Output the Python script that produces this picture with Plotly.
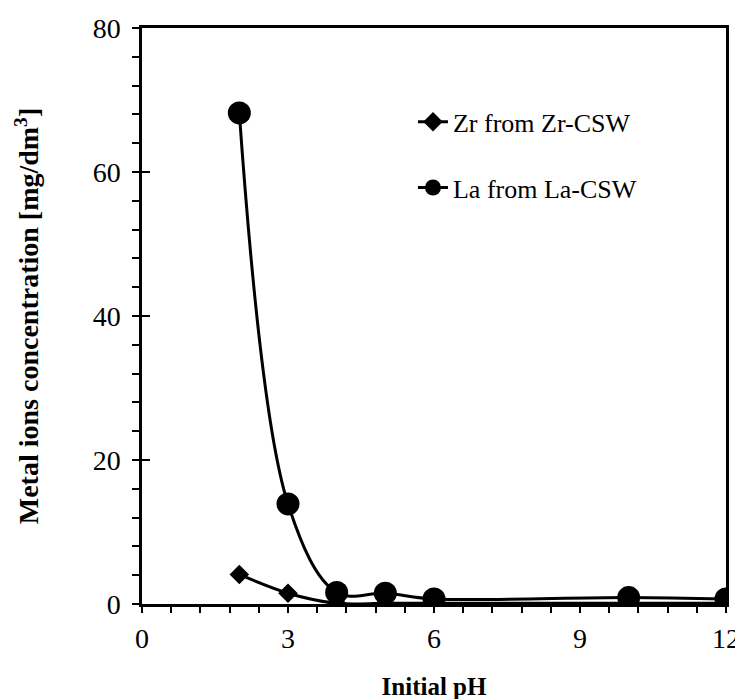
import plotly.graph_objects as go

ph = [2, 3, 4, 5, 6, 10, 12]
zr = [4.1, 1.5, 0.1, 0.1, 0.1, 0.1, 0.1]
la = [68.2, 13.9, 1.6, 1.5, 0.7, 0.9, 0.7]

FONT = "Liberation Serif"

fig = go.Figure()
fig.add_trace(go.Scatter(
    x=ph, y=zr, mode="lines+markers", name="Zr from Zr-CSW",
    line=dict(color="black", width=3, shape="spline", smoothing=1.0),
    marker=dict(symbol="diamond", size=15, color="black"),
    legendgroup="a",
))
fig.add_trace(go.Scatter(
    x=ph, y=la, mode="lines+markers", name="La from La-CSW",
    line=dict(color="black", width=3, shape="spline", smoothing=1.0),
    marker=dict(symbol="circle", size=23, color="black"),
    legendgroup="b",
))
# empty trace carrying the inward major ticks of the y axis
fig.add_trace(go.Scatter(x=[None], y=[None], yaxis="y2", showlegend=False))

fig.update_layout(
    width=743, height=699,
    margin=dict(l=134, r=25, t=20, b=103),
    paper_bgcolor="white", plot_bgcolor="white",
    font=dict(family=FONT, color="black", size=28),
    showlegend=True,
    legend=dict(
        x=0.464, y=0.878, xanchor="left", yanchor="top",
        font=dict(family=FONT, size=26, color="black"),
        bgcolor="rgba(0,0,0,0)", tracegroupgap=29,
    ),
    xaxis=dict(
        range=[0, 12], dtick=3, tick0=0, automargin=False,
        showline=True, linecolor="black", linewidth=2.5, mirror=True,
        ticks="outside", ticklen=6, tickwidth=1.5, tickcolor="black",
        minor=dict(dtick=0.6, ticks="outside", ticklen=6, tickwidth=1.5, tickcolor="black"),
        showgrid=False, zeroline=False,
        tickfont=dict(family=FONT, size=28), ticklabelstandoff=2,
        title=dict(text="<b>Initial pH</b>", font=dict(family=FONT, size=25), standoff=25),
    ),
    yaxis=dict(
        range=[0, 80], dtick=20, tick0=0, automargin=False,
        showline=True, linecolor="black", linewidth=2.5, mirror=True,
        ticks="outside", ticklen=7, tickwidth=1.5, tickcolor="black",
        minor=dict(dtick=4, ticks="outside", ticklen=7, tickwidth=1.5, tickcolor="black"),
        showgrid=False, zeroline=False,
        tickfont=dict(family=FONT, size=28), ticklabelstandoff=6,
        title=dict(text="<b>Metal ions concentration [mg/dm<sup>3</sup>]</b>",
                   font=dict(family=FONT, size=28), standoff=46),
    ),
    yaxis2=dict(
        range=[0, 80], dtick=20, tick0=0, overlaying="y", side="left",
        ticks="inside", ticklen=8, tickwidth=1.5, tickcolor="black",
        showticklabels=False, showgrid=False, zeroline=False, showline=False,
        automargin=False,
    ),
)

fig.write_html("out.html")
